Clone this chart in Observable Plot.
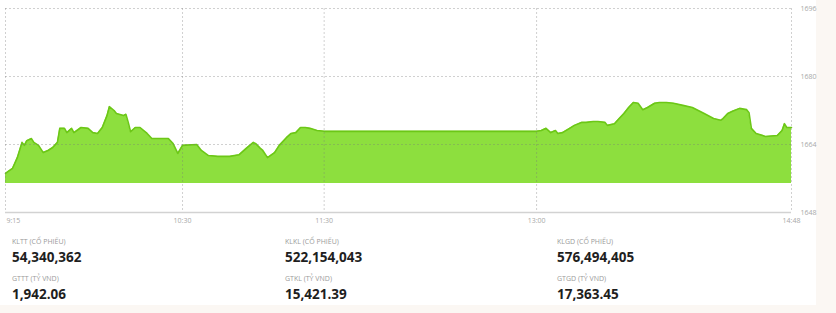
<!DOCTYPE html>
<html><head><meta charset="utf-8">
<script src="https://cdn.jsdelivr.net/npm/d3@7"></script>
<script src="https://cdn.jsdelivr.net/npm/@observablehq/plot@0.6"></script>
<style>
html,body{margin:0;padding:0;background:#fbf7f3;}
#panel{position:absolute;left:0;top:0;width:816px;height:305px;background:#fff;}
#chart{position:absolute;left:0;top:0;}
.stat{position:absolute;font-family:"Open Sans",sans-serif;line-height:1;white-space:nowrap;}
.lab{font-size:7px;color:#9a9a9a;}
.val{font-size:13.5px;font-weight:700;color:#1e1e1e;}
</style></head><body>
<div id="panel"><div id="chart"></div></div>
<script>
const times = ["9:15","9:16","9:18","9:20","9:22","9:23","9:24","9:26","9:27","9:29","9:31","9:33","9:35","9:37","9:38","9:40","9:41","9:43","9:44","9:47","9:50","9:52","9:54","9:56","9:58","9:59","10:01","10:02","10:05","10:06","10:07","10:08","10:10","10:12","10:15","10:17","10:22","10:24","10:26","10:28","10:30","10:36","10:38","10:41","10:45","10:50","10:54","10:57","11:00","11:01","11:03","11:04","11:06","11:09","11:11","11:14","11:16","11:18","11:20","11:22","11:24","11:27","11:30","13:00","13:02","13:04","13:06","13:08","13:09","13:11","13:14","13:16","13:19","13:21","13:24","13:26","13:29","13:30","13:33","13:35","13:37","13:39","13:41","13:43","13:45","13:47","13:50","13:52","13:55","13:58","14:02","14:06","14:11","14:15","14:18","14:19","14:21","14:23","14:26","14:29","14:30","14:31","14:33","14:37","14:42","14:44","14:45","14:46","14:48"];
const values = [1657.2,1657.6,1658.4,1660.9,1664.5,1663.8,1664.9,1665.4,1664.5,1663.8,1662.1,1662.6,1663.3,1664.5,1667.8,1667.8,1666.8,1667.8,1666.8,1668.0,1667.8,1666.8,1666.6,1668.0,1670.8,1672.9,1672.0,1671.3,1670.8,1671.1,1669.2,1667.0,1668.0,1668.0,1666.6,1665.4,1665.4,1665.4,1664.2,1661.9,1663.8,1664.0,1662.6,1661.4,1661.2,1661.2,1661.6,1663.1,1664.5,1664.2,1663.1,1662.6,1660.9,1662.1,1663.8,1665.6,1666.6,1666.8,1668.0,1668.0,1667.8,1667.3,1667.1,1667.1,1667.3,1667.8,1666.8,1667.3,1666.6,1666.8,1667.8,1668.5,1669.2,1669.2,1669.4,1669.4,1669.2,1668.5,1668.9,1670.1,1671.3,1672.7,1673.9,1673.7,1672.2,1672.7,1673.7,1673.9,1673.9,1673.7,1673.2,1672.7,1671.3,1670.1,1669.7,1670.1,1671.3,1671.8,1672.5,1672.2,1671.5,1667.8,1666.6,1665.9,1666.1,1667.3,1668.9,1668.0,1668.0];
const baseline = 1654.8;
const xTicks = ["9:15","10:30","11:30","13:00","14:48"];
const yTicks = [1648,1664,1680,1696];
const statLabels = ["KLTT (CỔ PHIẾU)","KLKL (CỔ PHIẾU)","KLGD (CỔ PHIẾU)","GTTT (TỶ VND)","GTKL (TỶ VND)","GTGD (TỶ VND)"];
const statValues = ["54,340,362","522,154,043","576,494,405","1,942.06","15,421.39","17,363.45"];

const parse = s => { const [h,m] = s.split(":").map(Number); return new Date(Date.UTC(2000,0,1,h,m)); };
const data = times.map((t,i)=>({t: parse(t), v: values[i]}));
const tickDates = xTicks.map(parse);
const gridStyle = {stroke:"#777", strokeOpacity:0.35, strokeDasharray:"2,2"};
const plot = Plot.plot({
  width: 816, height: 230, marginLeft: 5, marginRight: 25, marginTop: 8, marginBottom: 18,
  x: {type:"utc", domain:[parse("9:15"), parse("14:48")], axis:null},
  y: {domain:[1648,1696], axis:null},
  style: {fontFamily:"Open Sans, sans-serif", background:"transparent", overflow:"visible"},
  marks: [
    Plot.areaY(data, {x:"t", y1: baseline, y2:"v", fill:"#8ddf3e"}),
    Plot.lineY(data, {x:"t", y:"v", stroke:"#6cc717", strokeWidth:1.6}),
    Plot.ruleY(yTicks.slice(1), gridStyle),
    Plot.ruleX(tickDates, gridStyle),
    Plot.ruleY([1648], {stroke:"#d2d2d2", strokeWidth:1.5}),
    Plot.text(yTicks, {y: d=>d, frameAnchor:"right", dx: 9, textAnchor:"start", text: d=>String(d), fill:"#a8a8a8", fontSize:7}),
    Plot.text(xTicks.slice(0,1), {x: parse, frameAnchor:"bottom", dy: 10, dx: 1, textAnchor:"start", text: d=>d, fill:"#a8a8a8", fontSize:7}),
    Plot.text(xTicks.slice(1), {x: parse, frameAnchor:"bottom", dy: 10, text: d=>d, fill:"#a8a8a8", fontSize:7})
  ]
});
document.getElementById("chart").appendChild(plot);

const colX = [12, 285, 557];
const panel = document.getElementById("panel");
statLabels.forEach((lab, i) => {
  const col = i % 3, row = Math.floor(i / 3);
  const l = document.createElement("div");
  l.className = "stat lab"; l.textContent = lab;
  l.style.left = colX[col] + "px"; l.style.top = (238 + row*37) + "px";
  panel.appendChild(l);
  const v = document.createElement("div");
  v.className = "stat val"; v.textContent = statValues[i];
  v.style.left = colX[col] + "px"; v.style.top = (251 + row*37) + "px";
  panel.appendChild(v);
});
</script>
</body></html>
